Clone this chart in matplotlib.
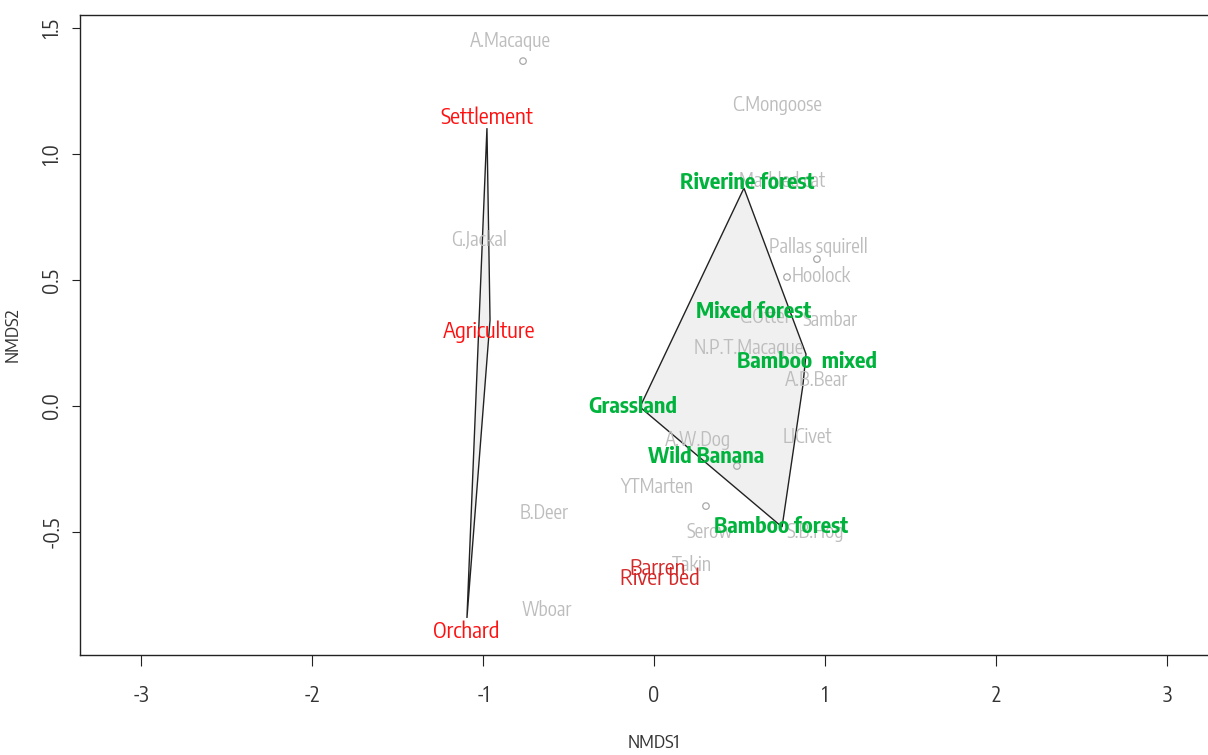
import matplotlib
matplotlib.use("Agg")
import matplotlib.pyplot as plt
from matplotlib.patches import Polygon
from matplotlib import font_manager

# pick a narrow sans face if one is installed, else Liberation Sans
names = sorted({f.name for f in font_manager.fontManager.ttflist})
narrow = [n for n in names if ("Narrow" in n or "Condensed" in n) and "Sans" in n]
FONT = narrow[:1] + ['Liberation Sans', 'DejaVu Sans']
plt.rcParams['font.family'] = FONT

# ---- data ----
species = ["A.Macaque", "C.Mongoose", "Marbled cat", "G.Jackal", "Pallas squirell",
           "Hoolock", "C.Otter", "Sambar", "N.P.T.Macaque", "A.B.Bear",
           "A.W.Dog", "LICivet", "YTMarten", "B.Deer", "Serow", "S.B.Hog",
           "Takin", "Wboar"]
species_x = [-0.842, 0.719, 0.749, -1.023, 0.959, 0.977, 0.649, 1.029, 0.556, 0.953,
             0.257, 0.895, 0.018, -0.643, 0.327, 0.942, 0.222, -0.626]
species_y = [1.448, 1.194, 0.893, 0.659, 0.631, 0.516, 0.353, 0.341, 0.230, 0.103,
             -0.135, -0.123, -0.321, -0.425, -0.500, -0.500, -0.631, -0.810]

point_x = [-0.766, 0.953, 0.778, 0.304, 0.485]
point_y = [1.369, 0.583, 0.512, -0.397, -0.238]

habitat = ["Settlement", "Agriculture", "Orchard", "Barren", "River bed",
           "Riverine forest", "Mixed forest", "Bamboo  mixed", "Grassland",
           "Wild Banana", "Bamboo forest"]
habitat_x = [-0.977, -0.965, -1.099, 0.018, 0.035, 0.544, 0.585, 0.895, -0.123, 0.304, 0.743]
habitat_y = [1.143, 0.294, -0.897, -0.647, -0.687, 0.885, 0.373, 0.175, -0.004, -0.202, -0.480]
habitat_group = ["human", "human", "human", "open", "open",
                 "forest", "forest", "forest", "forest", "forest", "forest"]

hull1_x = [-0.977, -0.959, -1.094]
hull1_y = [1.103, 0.341, -0.841]
hull2_x = [0.526, 0.889, 0.871, 0.749, -0.082]
hull2_y = [0.865, 0.206, 0.083, -0.480, -0.004]

xticks = [-3, -2, -1, 0, 1, 2, 3]
yticks = [-0.5, 0.0, 0.5, 1.0, 1.5]

# ---- figure ----
W, H = 1208, 755
fig = plt.figure(figsize=(W / 100, H / 100), dpi=100)
renderer = fig.canvas.get_renderer()


def size_for(text, target_px, weight="normal", boost=1.1):
    t = fig.text(0, 0, text, fontsize=10, fontweight=weight, family=FONT)
    w = t.get_window_extent(renderer=renderer).width
    t.remove()
    return 10 * target_px / w * boost


fs_species = size_for("C.Mongoose", 81)
fs_red = size_for("Settlement", 84)
fs_green = size_for("Grassland", 80, "bold")
fs_tick = 15
fs_lab = 13.5

ax = fig.add_axes([80 / W, 100 / H, 1148 / W, 640 / H])
ax.set_xlim(-3.357, 3.357)
ax.set_ylim(-0.988, 1.552)

for hx, hy in ((hull1_x, hull1_y), (hull2_x, hull2_y)):
    ax.add_patch(Polygon(list(zip(hx, hy)), closed=True, facecolor="#f0f0f0",
                         edgecolor="#222222", linewidth=1.0, zorder=1))

ax.scatter(point_x, point_y, s=22, facecolors="none", edgecolors="#a8a8a8",
           linewidths=0.9, zorder=2)

for name, x, y in zip(species, species_x, species_y):
    ax.text(x, y, name, color="#bdbdbd", fontsize=fs_species, ha="center", va="center",
            family=FONT, zorder=3)

colors = {"human": "#ff1010", "open": "#d22828", "forest": "#00b33c"}
for name, x, y, g in zip(habitat, habitat_x, habitat_y, habitat_group):
    bold = g == "forest"
    ax.text(x, y, name, color=colors[g], fontsize=fs_green if bold else fs_red,
            fontweight="bold" if bold else "normal", ha="center", va="center",
            family=FONT, zorder=4)

ax.set_xticks(xticks)
ax.set_xticklabels([str(t) for t in xticks])
ax.set_yticks(yticks)
ax.set_yticklabels([f"{t:.1f}" for t in yticks], rotation=90, va="center")
ax.tick_params(axis="x", length=8, width=0.8, pad=13, labelsize=fs_tick, colors="#222222",
               labelcolor="#333333")
ax.tick_params(axis="y", length=6, width=0.8, pad=6, labelsize=fs_tick, colors="#222222",
               labelcolor="#333333")
for sp in ax.spines.values():
    sp.set_linewidth(1.0)
    sp.set_color("#222222")

ax.set_xlabel("NMDS1", fontsize=fs_lab, color="#333333", labelpad=20)
ax.set_ylabel("NMDS2", fontsize=fs_lab, color="#333333", labelpad=14)

fig.savefig("out.png", dpi=100)
